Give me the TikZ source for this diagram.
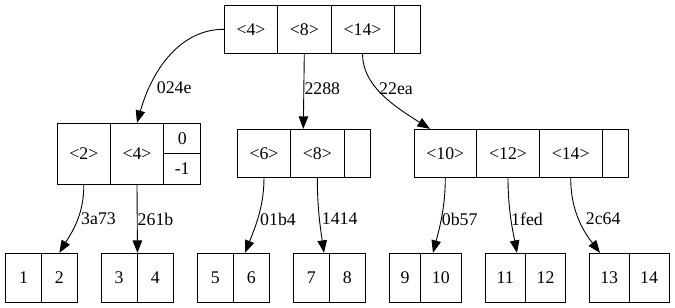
\documentclass[tikz,border=0pt]{standalone}
\usepackage{fontspec}
\setmainfont{Liberation Serif}
\usetikzlibrary{arrows.meta}
\begin{document}
\begin{tikzpicture}[x=1pt,y=-1pt,
  cell/.style={draw, rectangle, inner sep=0pt, line width=0.9pt,
    font=\fontsize{17.8}{20}\selectfont},
  lbl/.style={anchor=west, inner sep=0pt, font=\fontsize{17.8}{20}\selectfont},
  link/.style={-{Triangle[length=12.5pt,width=9.5pt]}, line width=0.9pt}]
\useasboundingbox (0,0) rectangle (675,308);

% root node
\node[cell, minimum width=53.4pt, minimum height=48pt] (r4)  at (251,29.3)   {<4>};
\node[cell, minimum width=53.3pt, minimum height=48pt] (r8)  at (304.3,29.3) {<8>};
\node[cell, minimum width=63pt,   minimum height=48pt] (r14) at (362.5,29.3) {<14>};
\node[cell, minimum width=26.7pt, minimum height=48pt] (re)  at (407.3,29.3) {};

% left internal node
\node[cell, minimum width=53pt,   minimum height=60.7pt] (a2) at (83.8,153.7)  {<2>};
\node[cell, minimum width=53.4pt, minimum height=60.7pt] (a4) at (137,153.7)   {<4>};
\node[cell, minimum width=37pt,   minimum height=30.35pt] (az) at (182.2,138.5) {0};
\node[cell, minimum width=37pt,   minimum height=30.35pt] (am) at (182.2,168.8) {-1};

% middle internal node
\node[cell, minimum width=53.4pt, minimum height=48.4pt] (b6) at (264,153.5)   {<6>};
\node[cell, minimum width=53.3pt, minimum height=48.4pt] (b8) at (317.3,153.5) {<8>};
\node[cell, minimum width=26.7pt, minimum height=48.4pt] (be) at (357.3,153.5) {};

% right internal node
\node[cell, minimum width=62.7pt, minimum height=48.4pt] (c10) at (445.3,153.5) {<10>};
\node[cell, minimum width=62.6pt, minimum height=48.4pt] (c12) at (508,153.5)   {<12>};
\node[cell, minimum width=62.7pt, minimum height=48.4pt] (c14) at (570.7,153.5) {<14>};
\node[cell, minimum width=26.7pt, minimum height=48.4pt] (ce)  at (615.3,153.5) {};

% leaves
\node[cell, minimum width=35.6pt, minimum height=49pt] (l1)  at (23.5,277.8)  {1};
\node[cell, minimum width=36pt,   minimum height=49pt] (l2)  at (59.3,277.8)  {2};
\node[cell, minimum width=36pt,   minimum height=49pt] (l3)  at (119,277.8)   {3};
\node[cell, minimum width=36.3pt, minimum height=49pt] (l4)  at (155.2,277.8) {4};
\node[cell, minimum width=36pt,   minimum height=49pt] (l5)  at (215.3,277.8) {5};
\node[cell, minimum width=36pt,   minimum height=49pt] (l6)  at (251.3,277.8) {6};
\node[cell, minimum width=36.3pt, minimum height=49pt] (l7)  at (311.2,277.8) {7};
\node[cell, minimum width=36pt,   minimum height=49pt] (l8)  at (347.3,277.8) {8};
\node[cell, minimum width=31.4pt, minimum height=49pt] (l9)  at (405,277.8)   {9};
\node[cell, minimum width=40.3pt, minimum height=49pt] (l10) at (440.8,277.8) {10};
\node[cell, minimum width=40pt,   minimum height=49pt] (l11) at (505.3,277.8) {11};
\node[cell, minimum width=40.4pt, minimum height=49pt] (l12) at (545.5,277.8) {12};
\node[cell, minimum width=39.7pt, minimum height=49pt] (l13) at (609.2,277.8) {13};
\node[cell, minimum width=40pt,   minimum height=49pt] (l14) at (649,277.8)   {14};

% links from the root
\draw[link] (r4.west) .. controls (180,29.3) and (152,70) .. (a4.north);
\draw[link] (r8.south) -- ([xshift=-14pt]b8.north);
\draw[link] (r14.south) .. controls (362.5,85) and (392,105) .. ([xshift=-15.3pt]c10.north);

% links from the internal nodes
\draw[link] (a2.south) .. controls (84,215) and (72,232) .. (l2.north);
\draw[link] (a4.south) -- (l3.north east);
\draw[link] (b6.south) .. controls (264,208) and (254,230) .. ([xshift=-6.3pt]l6.north);
\draw[link] (b8.south) .. controls (317.3,210) and (321,232) .. ([xshift=12.8pt]l7.north);
\draw[link] (c10.south) .. controls (445.3,208) and (439,230) .. ([xshift=-7.8pt]l10.north);
\draw[link] (c12.south) .. controls (508,210) and (513,232) .. ([xshift=11.7pt]l11.north);
\draw[link] (c14.south) .. controls (570.7,212) and (584,232) .. ([xshift=-9.2pt]l13.north);

% edge labels
\node[lbl] (t1)  at (156.7,88) {024e};
\node[lbl] (t2)  at (304.3,89) {2288};
\node[lbl] (t3)  at (379,89)   {22ea};
\node[lbl] (t4)  at (81,219)   {3a73};
\node[lbl] (t5)  at (137.5,219) {261b};
\node[lbl] (t6)  at (260,219)  {01b4};
\node[lbl] (t7)  at (321.7,219) {1414};
\node[lbl] (t8)  at (441.7,219) {0b57};
\node[lbl] (t9)  at (511,219)  {1fed};
\node[lbl] (t10) at (585.7,219) {2c64};
\end{tikzpicture}
\end{document}
